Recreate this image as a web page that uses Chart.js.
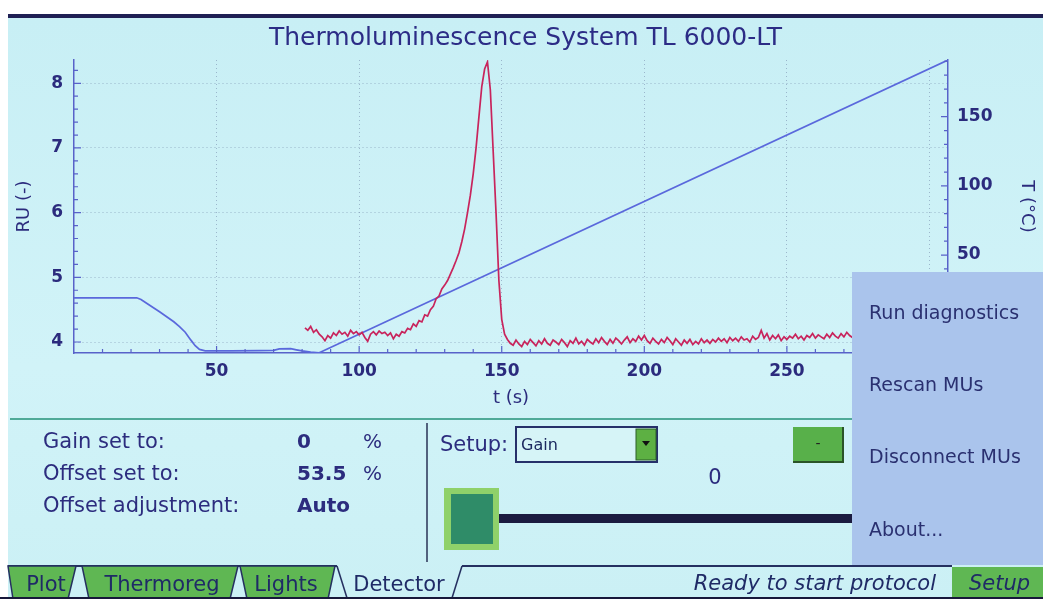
<!DOCTYPE html>
<html>
<head>
<meta charset="utf-8">
<script src="https://cdn.jsdelivr.net/npm/chart.js@4.4.1/dist/chart.umd.min.js"></script>
<style>
  html, body { margin: 0; padding: 0; background: #fff; }
  #page { position: relative; width: 1043px; height: 599px; overflow: hidden; background: #fff; }
  #screen { position: absolute; left: 8px; top: 14px; width: 1035px; height: 585px;
            background: linear-gradient(to bottom, #c8eff5, #d1f3f8 60%, #cbf0f5);
            border-top: 4px solid #1f2054; box-sizing: border-box; }
  #plot { position: absolute; left: 8px; top: 18px; }
  #ui { position: absolute; left: 0; top: 0; }
</style>
</head>
<body>
<div id="page">
  <div id="screen"></div>
  <canvas id="plot" width="1035" height="402"></canvas>
  <svg id="ui" width="1043" height="599" viewBox="0 0 1043 599" font-family="DejaVu Sans">
    <!-- lower panel -->
    <line x1="10" y1="419" x2="852" y2="419" stroke="#4faa98" stroke-width="2"/>
    <line x1="427" y1="423" x2="427" y2="562" stroke="#52627e" stroke-width="2"/>
    <g fill="#2c2c7e" font-size="21">
      <text x="43" y="448">Gain set to:</text>
      <text x="43" y="480">Offset set to:</text>
      <text x="43" y="512">Offset adjustment:</text>
      <text x="297" y="448" font-size="20" font-weight="bold">0</text>
      <text x="363" y="448" font-size="20">%</text>
      <text x="297" y="480" font-size="20" font-weight="bold">53.5</text>
      <text x="363" y="480" font-size="20">%</text>
      <text x="297" y="512" font-size="20" font-weight="bold">Auto</text>
      <text x="440" y="451">Setup:</text>
      <text x="715" y="484" text-anchor="middle">0</text>
    </g>
    <rect x="516" y="427" width="141" height="35" fill="#d6f4f7" stroke="#26306a" stroke-width="2"/>
    <text x="521" y="450" font-size="16" fill="#1d2a60">Gain</text>
    <rect x="636" y="429" width="20" height="31" fill="#5db043" stroke="#2d5e2a" stroke-width="1"/>
    <polygon points="642,441 650,441 646,446" fill="#111"/>
    <rect x="793" y="427" width="50" height="35" fill="#58b04a"/>
    <path d="M793 462 H843 V427" fill="none" stroke="#2a5428" stroke-width="2"/>
    <text x="818" y="448" font-size="14" fill="#222" text-anchor="middle">-</text>
    <rect x="444" y="488" width="55" height="62" fill="#8fd16a"/>
    <rect x="451" y="494" width="42" height="50" fill="#2f8c68"/>
    <rect x="499" y="514" width="353" height="9" fill="#1b1b40"/>
    <!-- tabs -->
    <line x1="8" y1="566" x2="337" y2="566" stroke="#253060" stroke-width="2"/>
    <line x1="462" y1="566" x2="952" y2="566" stroke="#253060" stroke-width="2"/>
    <g fill="#5fb753" stroke="#253060" stroke-width="1.5">
      <polygon points="8,566 76,566 68,599 13,599"/>
      <polygon points="82,566 238,566 230,599 89,599"/>
      <polygon points="240,566 335,566 328,599 247,599"/>
    </g>
    <line x1="337" y1="566" x2="347" y2="598" stroke="#253060" stroke-width="1.5"/>
    <line x1="462" y1="566" x2="452" y2="598" stroke="#253060" stroke-width="1.5"/>
    <g fill="#1f2a66" font-size="21" text-anchor="middle">
      <text x="46" y="591">Plot</text>
      <text x="162" y="591">Thermoreg</text>
      <text x="286" y="591">Lights</text>
      <text x="399" y="591">Detector</text>
    </g>
    <text x="936" y="590" font-size="21" font-style="italic" fill="#1f2a66" text-anchor="end">Ready to start protocol</text>
    <rect x="952" y="567" width="91" height="32" fill="#5fb753"/>
    <text x="969" y="590" font-size="21" font-style="italic" fill="#1f2a66">Setup</text>
    <rect x="0" y="597" width="1043" height="2" fill="#17183a"/>
    <!-- popup menu -->
    <rect x="852" y="272" width="191" height="293" fill="#aac4ec"/>
    <g fill="#2a3070" font-size="19">
      <text x="869" y="319">Run diagnostics</text>
      <text x="869" y="391">Rescan MUs</text>
      <text x="869" y="463">Disconnect MUs</text>
      <text x="869" y="536">About...</text>
    </g>
  </svg>
</div>
<script>
// TL signal, sampled once per second from tlStart
const tlStart = 81;
const tlValues = [
  4.22, 4.18, 4.24, 4.15, 4.19, 4.12, 4.08, 4.02,
  4.10, 4.06, 4.14, 4.10, 4.17, 4.12, 4.15, 4.09, 4.18, 4.13, 4.16, 4.11,
  4.15, 4.07, 4.01, 4.12, 4.16, 4.11, 4.17, 4.13, 4.15, 4.10, 4.14, 4.05,
  4.12, 4.09, 4.16, 4.14, 4.21, 4.19, 4.28, 4.24, 4.33, 4.31, 4.42, 4.40,
  4.50, 4.55, 4.67, 4.71, 4.82, 4.88, 4.95, 5.05, 5.15, 5.26, 5.38, 5.55, 5.75, 6.00, 6.27,
  6.60, 7.00, 7.48, 7.95, 8.22, 8.33, 7.90, 6.95, 6.00, 4.95, 4.35, 4.12, 4.04,
  3.98, 3.95, 4.03, 3.97, 3.93, 4.01, 3.96, 4.04, 3.99, 3.94,
  4.02, 3.97, 4.05, 3.98, 3.95, 4.03, 4.00, 3.96, 4.04, 3.99,
  3.93, 4.02, 3.98, 4.06, 3.97, 4.01, 3.95, 4.04, 4.00, 3.97,
  4.05, 3.99, 4.07, 4.01, 3.96, 4.04, 3.98, 4.06, 4.02, 3.97,
  4.03, 4.08, 3.99, 4.05, 4.01, 4.09, 4.03, 4.10, 4.02, 3.98,
  4.06, 4.01, 3.97, 4.04, 3.99, 4.07, 4.02, 3.96, 4.05, 4.00,
  3.95, 4.03, 3.98, 4.04, 3.96, 4.01, 3.97, 4.05, 3.99, 4.03,
  3.98, 4.04, 4.00, 4.06, 4.01, 4.05, 3.99, 4.07, 4.02, 4.06,
  4.01, 4.08, 4.03, 4.05, 4.00, 4.09, 4.04, 4.07, 4.18, 4.06,
  4.13, 4.03, 4.10, 4.05, 4.11, 4.02, 4.08, 4.04, 4.09, 4.06,
  4.12, 4.05, 4.09, 4.03, 4.10, 4.07, 4.13, 4.06, 4.11, 4.08,
  4.05, 4.12, 4.07, 4.14, 4.09, 4.06, 4.13, 4.08, 4.15, 4.10,
  4.07, 4.13, 4.09, 4.15, 4.11, 4.08, 4.14, 4.10, 4.16, 4.12,
  4.09, 4.14, 4.11, 4.17, 4.12, 4.09, 4.15, 4.11, 4.16, 4.13,
  4.10, 4.16, 4.12, 4.18, 4.13, 4.11, 4.17, 4.12, 4.15, 4.14,
  4.11, 4.17, 4.13, 4.16
];

// temperature profile (right axis)
const tempTime  = [0, 22, 23.5, 26, 30, 35, 37, 39, 41, 42.5, 44, 46, 55, 65, 70, 72, 76, 78, 80, 83, 86, 306.5];
const tempValue = [19.1, 19.1, 17.9, 14.4, 9.0, 1.8, -1.8, -5.8, -11.5, -15.5, -18.2, -19.2, -19.2, -19.1, -18.9, -17.8, -17.7, -18.5, -19.3, -20.2, -20.6, 191.0];

// labelled ticks
const xMajor = [50, 100, 150, 200, 250, 300];
const ruMajor = [4, 5, 6, 7, 8];
const tMajor = [50, 100, 150];

const titleText = 'Thermoluminescence System TL 6000-LT';

function range(a, b, step) {
  const out = [];
  for (let v = a; v <= b + 1e-9; v += step) out.push(Math.round(v * 10) / 10);
  return out;
}
const xTicks = range(10, 300, 10);
const ruTicks = range(4, 8.2, 0.2);
const tTicks = range(-20, 190, 10);

const tlPoints = tlValues.map((v, i) => ({ x: tlStart + i, y: v }));
const tempPoints = tempTime.map((t, i) => ({ x: t, y: tempValue[i] }));

const axisColor = '#5862c9';
const labelColor = '#2b2b7d';
const gridColor = 'rgba(115,135,170,0.55)';
const tickFont = { family: 'DejaVu Sans', size: 17, weight: 'bold' };
const titleFont = { family: 'DejaVu Sans', size: 18, weight: 'normal' };

Chart.defaults.font.family = 'DejaVu Sans';

// short tick marks drawn inward, as on the instrument display
const inwardTicks = {
  id: 'inwardTicks',
  afterDatasetsDraw(chart) {
    const ctx = chart.ctx;
    const a = chart.chartArea;
    ctx.save();
    ctx.strokeStyle = axisColor;
    ctx.lineWidth = 1.2;
    ctx.beginPath();
    const sx = chart.scales.x;
    xTicks.forEach(v => {
      const len = xMajor.includes(v) ? 7 : 4;
      const p = sx.getPixelForValue(v);
      ctx.moveTo(p, a.bottom); ctx.lineTo(p, a.bottom - len);
    });
    const sy = chart.scales.y;
    ruTicks.forEach(v => {
      const len = ruMajor.includes(v) ? 7 : 4;
      const p = sy.getPixelForValue(v);
      ctx.moveTo(a.left, p); ctx.lineTo(a.left + len, p);
    });
    const st = chart.scales.y2;
    tTicks.forEach(v => {
      const len = tMajor.includes(v) ? 7 : 4;
      const p = st.getPixelForValue(v);
      ctx.moveTo(a.right, p); ctx.lineTo(a.right - len, p);
    });
    ctx.stroke();
    ctx.restore();
  }
};

new Chart(document.getElementById('plot'), {
  type: 'line',
  data: {
    datasets: [
      { label: 'RU', data: tlPoints, yAxisID: 'y', borderColor: '#c8245c', borderWidth: 1.7, pointRadius: 0, tension: 0 },
      { label: 'T', data: tempPoints, yAxisID: 'y2', borderColor: '#5a68dc', borderWidth: 1.7, pointRadius: 0, tension: 0 }
    ]
  },
  options: {
    responsive: false,
    animation: false,
    layout: { padding: 0 },
    plugins: {
      legend: { display: false },
      tooltip: { enabled: false },
      title: {
        display: true, text: titleText, color: '#2c2c86',
        font: { family: 'DejaVu Sans', size: 25, weight: 'normal' },
        padding: { top: 5, bottom: 7 }
      }
    },
    scales: {
      x: {
        type: 'linear', min: 0, max: 306.5,
        afterBuildTicks: s => { s.ticks = xTicks.map(v => ({ value: v })); },
        afterFit: s => { s.height = 67; },
        ticks: { autoSkip: false, maxRotation: 0, padding: 8, color: labelColor, font: tickFont,
                 callback: v => xMajor.includes(v) ? String(v) : '' },
        grid: { drawTicks: false, color: c => (c.tick && xMajor.includes(c.tick.value)) ? gridColor : 'rgba(0,0,0,0)' },
        border: { color: axisColor, width: 1.5, dash: [1, 3] },
        title: { display: true, text: 't (s)', color: labelColor, font: titleFont, padding: { bottom: 11 } }
      },
      y: {
        position: 'left', min: 3.83, max: 8.36,
        afterBuildTicks: s => { s.ticks = ruTicks.map(v => ({ value: v })); },
        afterFit: s => { s.width = 66; },
        ticks: { autoSkip: false, padding: 11, color: labelColor, font: tickFont,
                 callback: v => ruMajor.includes(v) ? String(v) : '' },
        grid: { drawTicks: false, color: c => (c.tick && ruMajor.includes(c.tick.value)) ? gridColor : 'rgba(0,0,0,0)' },
        border: { color: axisColor, width: 1.5, dash: [1, 3] },
        title: { display: true, text: 'RU (-)', color: labelColor, font: titleFont, padding: { top: 6 } }
      },
      y2: {
        position: 'right', min: -20.8, max: 191.0,
        afterBuildTicks: s => { s.ticks = tTicks.map(v => ({ value: v })); },
        afterFit: s => { s.width = 95; },
        ticks: { autoSkip: false, padding: 9, color: labelColor, font: tickFont,
                 callback: v => tMajor.includes(v) ? String(v) : '' },
        grid: { drawTicks: false, drawOnChartArea: false },
        border: { color: axisColor, width: 1.5 },
        title: { display: true, text: 'T (°C)', color: labelColor, font: titleFont, padding: { top: 6 } }
      }
    }
  },
  plugins: [inwardTicks]
});
</script>
</body>
</html>
